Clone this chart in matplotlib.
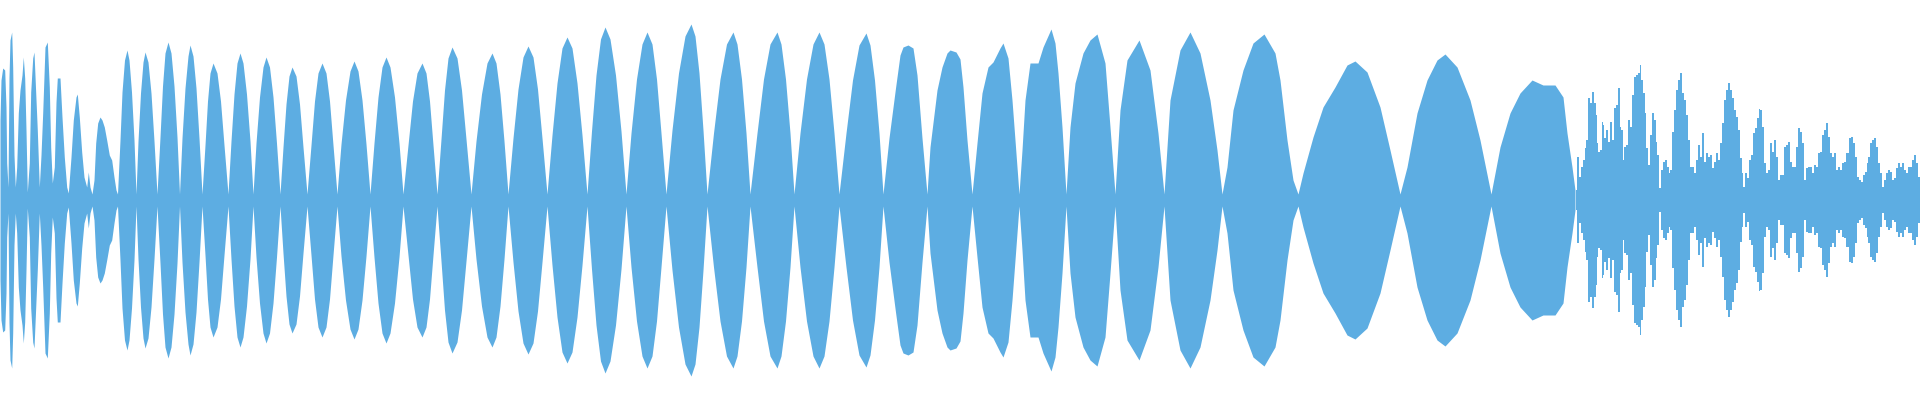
import matplotlib
matplotlib.use("Agg")
import matplotlib.pyplot as plt
import numpy as np

# Waveform peak envelope (frame index -> peak level, full scale = 200)
intro_frames = [0, 1, 2.7, 4.7, 6, 6.7, 8, 9, 10, 11.7, 12.7, 14, 15.3, 16.7, 18.3, 20, 22, 23.3, 24.7,
                26, 27.3, 29.3, 30.7, 32.7, 34, 35.3, 37.3, 39.3, 41, 42.7, 45, 47.3, 49.3, 50.7, 52.3,
                54.3, 56, 57.3, 60, 62, 64.3, 66.7, 68.3, 71, 73.3, 76, 77.3, 79.3, 81.7, 84, 86.7,
                88.3, 90, 92, 94, 95.7, 97.7, 100, 102, 104.3, 106.7, 109.3, 111.7, 114, 116]
intro_peaks = [80, 120, 132, 130, 93, 37, 13, 123, 160, 168, 133, 45, 13, 33, 87, 110, 125, 143, 122,
               70, 8, 37, 108, 142, 148, 117, 70, 13, 45, 87, 153, 158, 113, 53, 17,
               33, 98, 122, 122, 83, 43, 13, 7, 43, 80, 103, 106, 83, 48, 23, 13,
               28, 13, 6, 20, 57, 77, 83, 80, 73, 60, 45, 40, 23, 10]

beat_frames = [117.5, 120, 122, 124.5, 127, 129, 131.5, 134, 136,
               138, 140.5, 143, 145, 148, 151, 154, 157,
               160, 162.5, 165, 168, 171, 174, 177, 179.5,
               182, 185, 188, 190, 193, 196, 199, 202,
               205, 207.5, 210, 213, 217, 220.5, 224, 228,
               231, 234, 237, 240, 243, 246.5, 250, 253,
               256, 259.5, 263, 266, 269.5, 273, 276.5, 280,
               283, 286, 289, 292, 296, 299.5, 303, 307,
               311, 314.5, 318, 322, 326, 329.5, 333, 337,
               341, 345.5, 350, 354, 358, 362, 366, 370,
               374, 378, 382, 386, 390, 394.5, 399, 403,
               408, 412.5, 417, 422, 426, 429.5, 433, 437,
               441, 444.5, 448, 452, 457, 461.5, 466, 471,
               476, 481.5, 487, 492, 496, 500, 504, 508,
               513, 518, 523, 528, 533, 537.5, 542, 547,
               552, 557, 562, 567, 572, 577, 582, 587,
               591.5, 596, 600.5, 605, 610, 615.5, 621, 626,
               631, 636.5, 642, 647, 652, 656.5, 661, 666,
               672, 678.5, 685, 691, 695, 699, 703, 707,
               713.5, 720, 726.5, 733, 737, 741.5, 746, 750,
               757, 763.5, 770, 777, 781, 785.5, 790, 794,
               800, 806.5, 813, 819, 824, 829, 834, 839,
               846, 852.5, 859, 866, 870, 874.5, 879, 883,
               889, 895.5, 900, 903, 908, 913, 917, 922, 927,
               930, 937, 942, 947, 950, 956, 960, 963, 967, 972,
               977, 982, 988, 993, 1000, 1003, 1008, 1012, 1015, 1019,
               1022, 1025, 1030, 1038, 1043, 1051, 1055, 1058, 1062, 1066,
               1070, 1075, 1083, 1090, 1097, 1105, 1110, 1115,
               1120, 1127, 1139, 1150, 1158, 1164,
               1170, 1180, 1190, 1200, 1210, 1217, 1222,
               1227, 1233, 1243, 1253, 1264, 1275, 1280, 1287, 1293, 1298,
               1303, 1313, 1323, 1335, 1347, 1355, 1367, 1380, 1390, 1400,
               1407, 1417, 1427, 1437, 1445, 1457, 1470, 1480, 1491,
               1500, 1510, 1520, 1532, 1543, 1555, 1563, 1567, 1572, 1575]
beat_peaks = [6, 60, 108, 140, 150, 140, 108, 60, 6,
              59, 107, 138, 148, 138, 107, 59, 6,
              63, 114, 147, 158, 147, 114, 63, 6,
              62, 112, 144, 155, 144, 112, 62, 6,
              55, 99, 127, 137, 127, 99, 55, 6,
              59, 106, 137, 147, 137, 106, 59, 6,
              57, 103, 133, 143, 133, 103, 57, 6,
              53, 96, 124, 133, 124, 96, 53, 6,
              55, 99, 127, 137, 127, 99, 55, 6,
              56, 100, 129, 139, 129, 100, 56, 6,
              57, 103, 133, 143, 133, 103, 57, 6,
              55, 99, 127, 137, 127, 99, 55, 6,
              61, 110, 142, 153, 142, 110, 61, 6,
              59, 106, 137, 147, 137, 106, 59, 6,
              62, 111, 143, 154, 143, 111, 62, 6,
              65, 117, 152, 163, 152, 117, 65, 6,
              69, 125, 161, 173, 161, 125, 69, 6,
              67, 121, 156, 168, 156, 121, 67, 6,
              70, 127, 164, 176, 164, 127, 70, 6,
              67, 121, 156, 168, 156, 121, 67, 6,
              67, 121, 156, 168, 156, 121, 67, 6,
              67, 121, 156, 168, 156, 121, 67, 6,
              67, 120, 155, 167, 155, 120, 67, 6,
              62, 112, 145, 153, 155, 152, 125, 62, 6,
              53, 110, 133, 147, 150, 148, 141, 113, 60, 6,
              57, 107, 133, 138, 152, 157, 142, 100, 60, 6,
              50, 100, 137, 137, 153, 171, 157, 127, 73, 6,
              73, 117, 147, 160, 166, 137, 73, 6,
              90, 140, 160, 130, 67, 6,
              100, 150, 168, 147, 100, 50, 6,
              33, 90, 130, 157, 166, 147, 120, 60, 20, 6,
              27, 63, 93, 113, 135, 139, 128, 93, 50, 6,
              33, 87, 120, 140, 146, 133, 100, 60, 6,
              53, 87, 107, 120, 115, 115, 103, 67, 33, 10]

tail_frames = [1576, 1578, 1580, 1582, 1584, 1585, 1587, 1589, 1591, 1593, 1595, 1596, 1597, 1599,
               1601, 1602, 1603, 1605, 1607, 1609, 1611, 1613, 1615, 1617, 1619, 1620, 1622, 1623,
               1625, 1627, 1629, 1631, 1633, 1635, 1637, 1639, 1640, 1642, 1644, 1645, 1647, 1649,
               1651, 1653, 1655, 1656, 1658, 1660, 1662, 1664, 1666, 1668, 1669, 1671, 1673, 1675,
               1677, 1679, 1681, 1683, 1685, 1687, 1689, 1691, 1693, 1695, 1697, 1699, 1701, 1703,
               1705, 1707, 1709, 1711, 1713, 1715, 1717, 1719, 1721, 1723, 1725, 1727, 1729, 1731,
               1733, 1735, 1737, 1739, 1741, 1742, 1744, 1746, 1748, 1750, 1752, 1754, 1756, 1758,
               1759, 1761, 1763, 1765, 1767, 1769, 1771, 1773, 1775, 1777, 1779, 1781, 1783, 1785,
               1787, 1789, 1791, 1793, 1795, 1797, 1799, 1801, 1803, 1805, 1807, 1809, 1811, 1813,
               1815, 1817, 1819, 1821, 1823, 1825, 1827, 1829, 1831, 1833, 1835, 1837, 1839, 1841,
               1843, 1845, 1847, 1850, 1852, 1854, 1856, 1858, 1860, 1862, 1864, 1866, 1867, 1869,
               1871, 1873, 1875, 1877, 1879, 1881, 1883, 1885, 1887, 1889, 1891, 1893, 1895, 1897,
               1899, 1901, 1903, 1905, 1907, 1909, 1911, 1913, 1915, 1917, 1919, 1920]
tail_peaks = [10, 43, 23, 33, 40, 52, 60, 102, 97, 108, 97, 85, 57, 48,
              50, 78, 75, 62, 70, 58, 78, 60, 92, 95, 112, 73, 70, 40,
              53, 55, 80, 73, 105, 123, 125, 127, 135, 120, 107, 87, 52, 35,
              65, 87, 80, 58, 45, 12, 30, 38, 40, 33, 27, 30, 68, 90,
              110, 120, 127, 107, 100, 85, 60, 33, 33, 27, 40, 55, 43, 67,
              38, 47, 43, 45, 32, 38, 47, 40, 57, 77, 100, 110, 117, 110,
              102, 90, 83, 70, 42, 27, 13, 27, 22, 40, 45, 67, 72, 82,
              91, 90, 73, 37, 27, 30, 57, 48, 60, 43, 20, 25, 25, 53,
              55, 58, 38, 33, 33, 53, 72, 68, 57, 20, 32, 33, 33, 27,
              35, 33, 47, 48, 65, 70, 77, 63, 47, 43, 47, 30, 33, 30,
              37, 38, 47, 62, 63, 57, 43, 23, 20, 18, 25, 28, 37, 43,
              57, 60, 62, 53, 37, 27, 13, 20, 27, 30, 28, 20, 22, 32,
              37, 33, 37, 30, 27, 33, 33, 40, 45, 37, 23, 23]

WAVE_COLOR = "#5DADE2"

body_frames = np.array(intro_frames + beat_frames, dtype=float)
body_peaks = np.array(intro_peaks + beat_peaks, dtype=float)
tail_x = np.array(tail_frames, dtype=float)
tail_y = np.array(tail_peaks, dtype=float)

fig = plt.figure(figsize=(19.2, 4), dpi=100)
ax = fig.add_axes([0, 0, 1, 1])
ax.fill_between(body_frames, -body_peaks, body_peaks, color=WAVE_COLOR, linewidth=0)
ax.fill_between(tail_x, -tail_y, tail_y, step="mid", color=WAVE_COLOR, linewidth=0)
ax.set_xlim(0, 1920)
ax.set_ylim(-200, 200)
ax.axis("off")
fig.savefig("out.png", dpi=100, facecolor="white")
